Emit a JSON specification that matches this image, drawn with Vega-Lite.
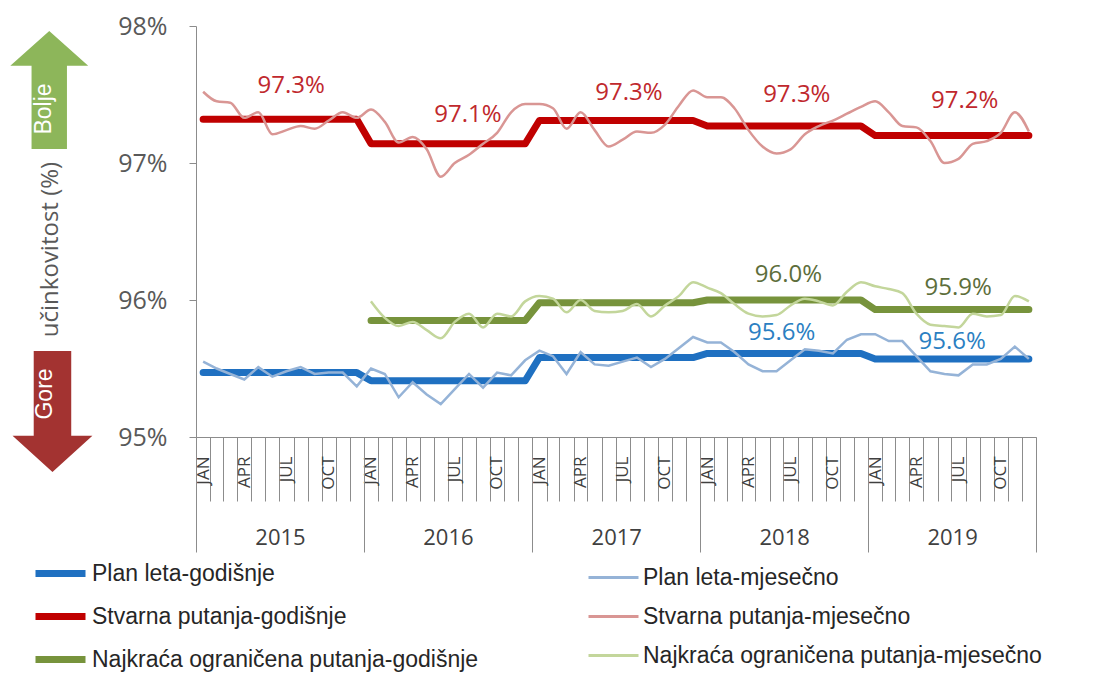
{
"$schema": "https://vega.github.io/schema/vega-lite/v6.json",
"padding": {"left": 10, "top": 14, "right": 5, "bottom": 2},
"config": {"view": {"stroke": null}, "font": "Open Sans"},
"width": 840, "height": 411,
"resolve": {"axis": {"x": "independent"}, "scale": {"color": "independent"}},
"datasets": {
"rows": [
{"d":"2015-01","Plan leta-godišnje":95.47,"Plan leta-mjesečno":95.55,"Stvarna putanja-godišnje":97.32,"Stvarna putanja-mjesečno":97.52,"Najkraća ograničena putanja-godišnje":null,"Najkraća ograničena putanja-mjesečno":null},
{"d":"2015-02","Plan leta-godišnje":95.47,"Plan leta-mjesečno":95.50,"Stvarna putanja-godišnje":97.32,"Stvarna putanja-mjesečno":97.45,"Najkraća ograničena putanja-godišnje":null,"Najkraća ograničena putanja-mjesečno":null},
{"d":"2015-03","Plan leta-godišnje":95.47,"Plan leta-mjesečno":95.46,"Stvarna putanja-godišnje":97.32,"Stvarna putanja-mjesečno":97.44,"Najkraća ograničena putanja-godišnje":null,"Najkraća ograničena putanja-mjesečno":null},
{"d":"2015-04","Plan leta-godišnje":95.47,"Plan leta-mjesečno":95.42,"Stvarna putanja-godišnje":97.32,"Stvarna putanja-mjesečno":97.33,"Najkraća ograničena putanja-godišnje":null,"Najkraća ograničena putanja-mjesečno":null},
{"d":"2015-05","Plan leta-godišnje":95.47,"Plan leta-mjesečno":95.51,"Stvarna putanja-godišnje":97.32,"Stvarna putanja-mjesečno":97.37,"Najkraća ograničena putanja-godišnje":null,"Najkraća ograničena putanja-mjesečno":null},
{"d":"2015-06","Plan leta-godišnje":95.47,"Plan leta-mjesečno":95.44,"Stvarna putanja-godišnje":97.32,"Stvarna putanja-mjesečno":97.21,"Najkraća ograničena putanja-godišnje":null,"Najkraća ograničena putanja-mjesečno":null},
{"d":"2015-07","Plan leta-godišnje":95.47,"Plan leta-mjesečno":95.48,"Stvarna putanja-godišnje":97.32,"Stvarna putanja-mjesečno":97.24,"Najkraća ograničena putanja-godišnje":null,"Najkraća ograničena putanja-mjesečno":null},
{"d":"2015-08","Plan leta-godišnje":95.47,"Plan leta-mjesečno":95.51,"Stvarna putanja-godišnje":97.32,"Stvarna putanja-mjesečno":97.27,"Najkraća ograničena putanja-godišnje":null,"Najkraća ograničena putanja-mjesečno":null},
{"d":"2015-09","Plan leta-godišnje":95.47,"Plan leta-mjesečno":95.46,"Stvarna putanja-godišnje":97.32,"Stvarna putanja-mjesečno":97.25,"Najkraća ograničena putanja-godišnje":null,"Najkraća ograničena putanja-mjesečno":null},
{"d":"2015-10","Plan leta-godišnje":95.47,"Plan leta-mjesečno":95.47,"Stvarna putanja-godišnje":97.32,"Stvarna putanja-mjesečno":97.31,"Najkraća ograničena putanja-godišnje":null,"Najkraća ograničena putanja-mjesečno":null},
{"d":"2015-11","Plan leta-godišnje":95.47,"Plan leta-mjesečno":95.47,"Stvarna putanja-godišnje":97.32,"Stvarna putanja-mjesečno":97.37,"Najkraća ograničena putanja-godišnje":null,"Najkraća ograničena putanja-mjesečno":null},
{"d":"2015-12","Plan leta-godišnje":95.47,"Plan leta-mjesečno":95.37,"Stvarna putanja-godišnje":97.32,"Stvarna putanja-mjesečno":97.33,"Najkraća ograničena putanja-godišnje":null,"Najkraća ograničena putanja-mjesečno":null},
{"d":"2016-01","Plan leta-godišnje":95.41,"Plan leta-mjesečno":95.50,"Stvarna putanja-godišnje":97.14,"Stvarna putanja-mjesečno":97.39,"Najkraća ograničena putanja-godišnje":95.85,"Najkraća ograničena putanja-mjesečno":95.99},
{"d":"2016-02","Plan leta-godišnje":95.41,"Plan leta-mjesečno":95.46,"Stvarna putanja-godišnje":97.14,"Stvarna putanja-mjesečno":97.30,"Najkraća ograničena putanja-godišnje":95.85,"Najkraća ograničena putanja-mjesečno":95.87},
{"d":"2016-03","Plan leta-godišnje":95.41,"Plan leta-mjesečno":95.29,"Stvarna putanja-godišnje":97.14,"Stvarna putanja-mjesečno":97.15,"Najkraća ograničena putanja-godišnje":95.85,"Najkraća ograničena putanja-mjesečno":95.81},
{"d":"2016-04","Plan leta-godišnje":95.41,"Plan leta-mjesečno":95.40,"Stvarna putanja-godišnje":97.14,"Stvarna putanja-mjesečno":97.19,"Najkraća ograničena putanja-godišnje":95.85,"Najkraća ograničena putanja-mjesečno":95.84},
{"d":"2016-05","Plan leta-godišnje":95.41,"Plan leta-mjesečno":95.31,"Stvarna putanja-godišnje":97.14,"Stvarna putanja-mjesečno":97.10,"Najkraća ograničena putanja-godišnje":95.85,"Najkraća ograničena putanja-mjesečno":95.78},
{"d":"2016-06","Plan leta-godišnje":95.41,"Plan leta-mjesečno":95.24,"Stvarna putanja-godišnje":97.14,"Stvarna putanja-mjesečno":96.90,"Najkraća ograničena putanja-godišnje":95.85,"Najkraća ograničena putanja-mjesečno":95.72},
{"d":"2016-07","Plan leta-godišnje":95.41,"Plan leta-mjesečno":95.35,"Stvarna putanja-godišnje":97.14,"Stvarna putanja-mjesečno":97.00,"Najkraća ograničena putanja-godišnje":95.85,"Najkraća ograničena putanja-mjesečno":95.84},
{"d":"2016-08","Plan leta-godišnje":95.41,"Plan leta-mjesečno":95.46,"Stvarna putanja-godišnje":97.14,"Stvarna putanja-mjesečno":97.06,"Najkraća ograničena putanja-godišnje":95.85,"Najkraća ograničena putanja-mjesečno":95.90},
{"d":"2016-09","Plan leta-godišnje":95.41,"Plan leta-mjesečno":95.36,"Stvarna putanja-godišnje":97.14,"Stvarna putanja-mjesečno":97.14,"Najkraća ograničena putanja-godišnje":95.85,"Najkraća ograničena putanja-mjesečno":95.80},
{"d":"2016-10","Plan leta-godišnje":95.41,"Plan leta-mjesečno":95.47,"Stvarna putanja-godišnje":97.14,"Stvarna putanja-mjesečno":97.22,"Najkraća ograničena putanja-godišnje":95.85,"Najkraća ograničena putanja-mjesečno":95.90},
{"d":"2016-11","Plan leta-godišnje":95.41,"Plan leta-mjesečno":95.45,"Stvarna putanja-godišnje":97.14,"Stvarna putanja-mjesečno":97.37,"Najkraća ograničena putanja-godišnje":95.85,"Najkraća ograničena putanja-mjesečno":95.88},
{"d":"2016-12","Plan leta-godišnje":95.41,"Plan leta-mjesečno":95.56,"Stvarna putanja-godišnje":97.14,"Stvarna putanja-mjesečno":97.43,"Najkraća ograničena putanja-godišnje":95.85,"Najkraća ograničena putanja-mjesečno":95.99},
{"d":"2017-01","Plan leta-godišnje":95.58,"Plan leta-mjesečno":95.63,"Stvarna putanja-godišnje":97.31,"Stvarna putanja-mjesečno":97.43,"Najkraća ograničena putanja-godišnje":95.98,"Najkraća ograničena putanja-mjesečno":96.03},
{"d":"2017-02","Plan leta-godišnje":95.58,"Plan leta-mjesečno":95.59,"Stvarna putanja-godišnje":97.31,"Stvarna putanja-mjesečno":97.40,"Najkraća ograničena putanja-godišnje":95.98,"Najkraća ograničena putanja-mjesečno":96.01},
{"d":"2017-03","Plan leta-godišnje":95.58,"Plan leta-mjesečno":95.46,"Stvarna putanja-godišnje":97.31,"Stvarna putanja-mjesečno":97.25,"Najkraća ograničena putanja-godišnje":95.98,"Najkraća ograničena putanja-mjesečno":95.91},
{"d":"2017-04","Plan leta-godišnje":95.58,"Plan leta-mjesečno":95.62,"Stvarna putanja-godišnje":97.31,"Stvarna putanja-mjesečno":97.37,"Najkraća ograničena putanja-godišnje":95.98,"Najkraća ograničena putanja-mjesečno":96.00},
{"d":"2017-05","Plan leta-godišnje":95.58,"Plan leta-mjesečno":95.53,"Stvarna putanja-godišnje":97.31,"Stvarna putanja-mjesečno":97.24,"Najkraća ograničena putanja-godišnje":95.98,"Najkraća ograničena putanja-mjesečno":95.92},
{"d":"2017-06","Plan leta-godišnje":95.58,"Plan leta-mjesečno":95.52,"Stvarna putanja-godišnje":97.31,"Stvarna putanja-mjesečno":97.12,"Najkraća ograničena putanja-godišnje":95.98,"Najkraća ograničena putanja-mjesečno":95.91},
{"d":"2017-07","Plan leta-godišnje":95.58,"Plan leta-mjesečno":95.55,"Stvarna putanja-godišnje":97.31,"Stvarna putanja-mjesečno":97.17,"Najkraća ograničena putanja-godišnje":95.98,"Najkraća ograničena putanja-mjesečno":95.92},
{"d":"2017-08","Plan leta-godišnje":95.58,"Plan leta-mjesečno":95.58,"Stvarna putanja-godišnje":97.31,"Stvarna putanja-mjesečno":97.23,"Najkraća ograničena putanja-godišnje":95.98,"Najkraća ograničena putanja-mjesečno":95.97},
{"d":"2017-09","Plan leta-godišnje":95.58,"Plan leta-mjesečno":95.51,"Stvarna putanja-godišnje":97.31,"Stvarna putanja-mjesečno":97.22,"Najkraća ograničena putanja-godišnje":95.98,"Najkraća ograničena putanja-mjesečno":95.88},
{"d":"2017-10","Plan leta-godišnje":95.58,"Plan leta-mjesečno":95.57,"Stvarna putanja-godišnje":97.31,"Stvarna putanja-mjesečno":97.28,"Najkraća ograničena putanja-godišnje":95.98,"Najkraća ograničena putanja-mjesečno":95.96},
{"d":"2017-11","Plan leta-godišnje":95.58,"Plan leta-mjesečno":95.65,"Stvarna putanja-godišnje":97.31,"Stvarna putanja-mjesečno":97.42,"Najkraća ograničena putanja-godišnje":95.98,"Najkraća ograničena putanja-mjesečno":96.03},
{"d":"2017-12","Plan leta-godišnje":95.58,"Plan leta-mjesečno":95.73,"Stvarna putanja-godišnje":97.31,"Stvarna putanja-mjesečno":97.53,"Najkraća ograničena putanja-godišnje":95.98,"Najkraća ograničena putanja-mjesečno":96.13},
{"d":"2018-01","Plan leta-godišnje":95.61,"Plan leta-mjesečno":95.69,"Stvarna putanja-godišnje":97.27,"Stvarna putanja-mjesečno":97.48,"Najkraća ograničena putanja-godišnje":96.00,"Najkraća ograničena putanja-mjesečno":96.09},
{"d":"2018-02","Plan leta-godišnje":95.61,"Plan leta-mjesečno":95.69,"Stvarna putanja-godišnje":97.27,"Stvarna putanja-mjesečno":97.48,"Najkraća ograničena putanja-godišnje":96.00,"Najkraća ograničena putanja-mjesečno":96.05},
{"d":"2018-03","Plan leta-godišnje":95.61,"Plan leta-mjesečno":95.62,"Stvarna putanja-godišnje":97.27,"Stvarna putanja-mjesečno":97.40,"Najkraća ograničena putanja-godišnje":96.00,"Najkraća ograničena putanja-mjesečno":95.97},
{"d":"2018-04","Plan leta-godišnje":95.61,"Plan leta-mjesečno":95.53,"Stvarna putanja-godišnje":97.27,"Stvarna putanja-mjesečno":97.24,"Najkraća ograničena putanja-godišnje":96.00,"Najkraća ograničena putanja-mjesečno":95.90},
{"d":"2018-05","Plan leta-godišnje":95.61,"Plan leta-mjesečno":95.48,"Stvarna putanja-godišnje":97.27,"Stvarna putanja-mjesečno":97.12,"Najkraća ograničena putanja-godišnje":96.00,"Najkraća ograničena putanja-mjesečno":95.88},
{"d":"2018-06","Plan leta-godišnje":95.61,"Plan leta-mjesečno":95.48,"Stvarna putanja-godišnje":97.27,"Stvarna putanja-mjesečno":97.07,"Najkraća ograničena putanja-godišnje":96.00,"Najkraća ograničena putanja-mjesečno":95.89},
{"d":"2018-07","Plan leta-godišnje":95.61,"Plan leta-mjesečno":95.56,"Stvarna putanja-godišnje":97.27,"Stvarna putanja-mjesečno":97.10,"Najkraća ograničena putanja-godišnje":96.00,"Najkraća ograničena putanja-mjesečno":95.96},
{"d":"2018-08","Plan leta-godišnje":95.61,"Plan leta-mjesečno":95.64,"Stvarna putanja-godišnje":97.27,"Stvarna putanja-mjesečno":97.21,"Najkraća ograničena putanja-godišnje":96.00,"Najkraća ograničena putanja-mjesečno":96.01},
{"d":"2018-09","Plan leta-godišnje":95.61,"Plan leta-mjesečno":95.63,"Stvarna putanja-godišnje":97.27,"Stvarna putanja-mjesečno":97.27,"Najkraća ograničena putanja-godišnje":96.00,"Najkraća ograničena putanja-mjesečno":95.99},
{"d":"2018-10","Plan leta-godišnje":95.61,"Plan leta-mjesečno":95.61,"Stvarna putanja-godišnje":97.27,"Stvarna putanja-mjesečno":97.31,"Najkraća ograničena putanja-godišnje":96.00,"Najkraća ograničena putanja-mjesečno":95.96},
{"d":"2018-11","Plan leta-godišnje":95.61,"Plan leta-mjesečno":95.71,"Stvarna putanja-godišnje":97.27,"Stvarna putanja-mjesečno":97.36,"Najkraća ograničena putanja-godišnje":96.00,"Najkraća ograničena putanja-mjesečno":96.06},
{"d":"2018-12","Plan leta-godišnje":95.61,"Plan leta-mjesečno":95.75,"Stvarna putanja-godišnje":97.27,"Stvarna putanja-mjesečno":97.41,"Najkraća ograničena putanja-godišnje":96.00,"Najkraća ograničena putanja-mjesečno":96.13},
{"d":"2019-01","Plan leta-godišnje":95.57,"Plan leta-mjesečno":95.75,"Stvarna putanja-godišnje":97.20,"Stvarna putanja-mjesečno":97.45,"Najkraća ograničena putanja-godišnje":95.93,"Najkraća ograničena putanja-mjesečno":96.10},
{"d":"2019-02","Plan leta-godišnje":95.57,"Plan leta-mjesečno":95.70,"Stvarna putanja-godišnje":97.20,"Stvarna putanja-mjesečno":97.37,"Najkraća ograničena putanja-godišnje":95.93,"Najkraća ograničena putanja-mjesečno":96.08},
{"d":"2019-03","Plan leta-godišnje":95.57,"Plan leta-mjesečno":95.70,"Stvarna putanja-godišnje":97.20,"Stvarna putanja-mjesečno":97.27,"Najkraća ograničena putanja-godišnje":95.93,"Najkraća ograničena putanja-mjesečno":96.05},
{"d":"2019-04","Plan leta-godišnje":95.57,"Plan leta-mjesečno":95.59,"Stvarna putanja-godišnje":97.20,"Stvarna putanja-mjesečno":97.26,"Najkraća ograničena putanja-godišnje":95.93,"Najkraća ograničena putanja-mjesečno":95.90},
{"d":"2019-05","Plan leta-godišnje":95.57,"Plan leta-mjesečno":95.48,"Stvarna putanja-godišnje":97.20,"Stvarna putanja-mjesečno":97.16,"Najkraća ograničena putanja-godišnje":95.93,"Najkraća ograničena putanja-mjesečno":95.82},
{"d":"2019-06","Plan leta-godišnje":95.57,"Plan leta-mjesečno":95.46,"Stvarna putanja-godišnje":97.20,"Stvarna putanja-mjesečno":97.00,"Najkraća ograničena putanja-godišnje":95.93,"Najkraća ograničena putanja-mjesečno":95.81},
{"d":"2019-07","Plan leta-godišnje":95.57,"Plan leta-mjesečno":95.45,"Stvarna putanja-godišnje":97.20,"Stvarna putanja-mjesečno":97.03,"Najkraća ograničena putanja-godišnje":95.93,"Najkraća ograničena putanja-mjesečno":95.80},
{"d":"2019-08","Plan leta-godišnje":95.57,"Plan leta-mjesečno":95.53,"Stvarna putanja-godišnje":97.20,"Stvarna putanja-mjesečno":97.14,"Najkraća ograničena putanja-godišnje":95.93,"Najkraća ograničena putanja-mjesečno":95.90},
{"d":"2019-09","Plan leta-godišnje":95.57,"Plan leta-mjesečno":95.53,"Stvarna putanja-godišnje":97.20,"Stvarna putanja-mjesečno":97.16,"Najkraća ograničena putanja-godišnje":95.93,"Najkraća ograničena putanja-mjesečno":95.88},
{"d":"2019-10","Plan leta-godišnje":95.57,"Plan leta-mjesečno":95.57,"Stvarna putanja-godišnje":97.20,"Stvarna putanja-mjesečno":97.22,"Najkraća ograničena putanja-godišnje":95.93,"Najkraća ograničena putanja-mjesečno":95.89},
{"d":"2019-11","Plan leta-godišnje":95.57,"Plan leta-mjesečno":95.66,"Stvarna putanja-godišnje":97.20,"Stvarna putanja-mjesečno":97.37,"Najkraća ograničena putanja-godišnje":95.93,"Najkraća ograničena putanja-mjesečno":96.03},
{"d":"2019-12","Plan leta-godišnje":95.57,"Plan leta-mjesečno":95.57,"Stvarna putanja-godišnje":97.20,"Stvarna putanja-mjesečno":97.23,"Najkraća ograničena putanja-godišnje":95.93,"Najkraća ograničena putanja-mjesečno":95.99}
]
},
"encoding": {
 "y": {"field": "v", "type": "quantitative", "scale": {"domain": [95, 98], "nice": false, "zero": false},
  "axis": {"title": "učinkovitost (%)", "titleFont": "Open Sans", "titleFontSize": 24, "titleFontWeight": "normal", "titleColor": "#595959", "titlePadding": 55, "titleY": 223,
   "grid": false, "values": [95, 96, 97, 98], "labelExpr": "datum.value + '%'", "tickSize": 7, "tickColor": "#8c8c8c", "domainColor": "#8c8c8c", "labelFont": "Open Sans", "labelFontSize": 25, "labelColor": "#595959", "labelPadding": 22}}
},
"layer": [
{"data": {"values": [{"d": "2014-02-16", "v": 97.533}]},
 "mark": {"type": "point", "shape": "M0,-1L0.66,-0.41L0.3,-0.41L0.3,1L-0.3,1L-0.3,-0.41L-0.66,-0.41Z", "filled": true, "size": 13924, "color": "#8db65a", "opacity": 1},
 "encoding": {"x": {"field": "d", "type": "temporal", "axis": null}}},
{"data": {"values": [{"d": "2014-02-23", "v": 95.186}]},
 "mark": {"type": "point", "shape": "M0,1L0.66,0.4L0.31,0.4L0.31,-1L-0.31,-1L-0.31,0.4L-0.66,0.4Z", "filled": true, "size": 14641, "color": "#a33331", "opacity": 1},
 "encoding": {"x": {"field": "d", "type": "temporal", "axis": null}}},
{"data": {"values": [{"d": "2014-02-05", "v": 97.394, "t": "Bolje"}, {"d": "2014-02-07", "v": 95.314, "t": "Gore"}]},
 "mark": {"type": "text", "angle": 270, "color": "#ffffff", "font": "Liberation Sans", "fontSize": 23, "align": "center", "baseline": "middle"},
 "encoding": {"x": {"field": "d", "type": "temporal", "axis": null}, "text": {"field": "t"}}},
{"data": {"name": "rows"},
 "transform": [{"fold": ["Plan leta-godišnje", "Stvarna putanja-godišnje", "Najkraća ograničena putanja-godišnje"], "as": ["s", "v"]}],
 "mark": {"type": "line", "strokeWidth": 7, "strokeCap": "round", "strokeJoin": "round"},
 "encoding": {
  "x": {"field": "d", "type": "temporal", "timeUnit": "utcyearmonth", "bandPosition": 0.5,
   "scale": {"type": "utc", "domain": [{"year": 2015, "month": 1, "date": 1, "utc": true}, {"year": 2020, "month": 1, "date": 1, "utc": true}], "nice": false},
   "axis": {"orient": "bottom", "title": null, "grid": false, "tickCount": {"interval": "month", "step": 1},
    "labelExpr": "utcyear(datum.value) < 2020 ? ['JAN','','','APR','','','JUL','','','OCT','',''][utcmonth(datum.value)] : ''",
    "labelAngle": 270, "labelAlign": "right", "labelBaseline": "middle", "labelOffset": 7, "labelPadding": -45,
    "tickSize": 64, "tickColor": "#8c8c8c", "domainColor": "#8c8c8c", "labelFont": "Open Sans", "labelFontSize": 17, "labelColor": "#404040",
    "labelOverlap": false}},
  "color": {"field": "s", "type": "nominal",
   "scale": {"domain": ["Plan leta-godišnje", "Stvarna putanja-godišnje", "Najkraća ograničena putanja-godišnje"],
    "range": ["#1f70c1", "#c00000", "#77933c"]},
   "legend": {"orient": "none", "legendX": -164, "legendY": 519, "title": null, "symbolType": "stroke", "symbolSize": 2500, "symbolStrokeWidth": 7,
    "labelFont": "Liberation Sans", "labelFontSize": 23, "labelColor": "#262626", "labelLimit": 600, "rowPadding": -20, "labelOffset": 3}}
 }},
{"data": {"name": "rows"},
 "transform": [{"fold": ["Plan leta-mjesečno"], "as": ["s", "v"]}],
 "mark": {"type": "line", "strokeWidth": 2.5, "interpolate": "linear"},
 "encoding": {
  "x": {"field": "d", "type": "temporal", "timeUnit": "utcyearmonth", "bandPosition": 0.5, "axis": null},
  "color": {"field": "s", "type": "nominal",
   "scale": {"domain": ["Plan leta-mjesečno", "Stvarna putanja-mjesečno", "Najkraća ograničena putanja-mjesečno"], "range": ["#95b3d7", "#d99694", "#c3d69b"]},
   "legend": null}
 }},
{"data": {"name": "rows"},
 "transform": [{"fold": ["Stvarna putanja-mjesečno", "Najkraća ograničena putanja-mjesečno"], "as": ["s", "v"]}],
 "mark": {"type": "line", "strokeWidth": 2.5, "interpolate": "monotone"},
 "encoding": {
  "x": {"field": "d", "type": "temporal", "timeUnit": "utcyearmonth", "bandPosition": 0.5, "axis": null},
  "color": {"field": "s", "type": "nominal",
   "scale": {"domain": ["Plan leta-mjesečno", "Stvarna putanja-mjesečno", "Najkraća ograničena putanja-mjesečno"], "range": ["#95b3d7", "#d99694", "#c3d69b"]},
   "legend": {"orient": "none", "legendX": 391, "legendY": 525, "title": null, "symbolType": "stroke", "symbolSize": 2500, "symbolStrokeWidth": 3,
    "labelFont": "Liberation Sans", "labelFontSize": 23, "labelColor": "#262626", "labelLimit": 600, "rowPadding": -16, "labelOffset": 3}}
 }},
{"data": {"values": [
  {"d":"2015-07-27","t":"97.3%","v":97.56},
  {"d":"2016-08-14","t":"97.1%","v":97.35},
  {"d":"2017-07-30","t":"97.3%","v":97.51},
  {"d":"2018-07-30","t":"97.3%","v":97.50},
  {"d":"2019-07-30","t":"97.2%","v":97.45}]},
 "mark": {"type": "text", "font": "Open Sans", "fontSize": 24, "align": "center", "baseline": "middle", "color": "#c0282d"},
 "encoding": {
  "x": {"field": "d", "type": "temporal",
   "axis": {"orient": "bottom", "title": null, "grid": false, "domain": false, "tickCount": {"interval": "year", "step": 1},
    "labelExpr": "utcyear(datum.value) < 2020 ? '' + utcyear(datum.value) : ''",
    "labelAngle": 0, "labelAlign": "center", "labelBaseline": "top", "labelOffset": 84, "labelPadding": -25,
    "tickSize": 115, "tickColor": "#8c8c8c", "labelFont": "Open Sans", "labelFontSize": 22, "labelColor": "#404040",
    "labelOverlap": false}},
  "text": {"field": "t"}
 }},
{"data": {"values": [
  {"d":"2018-07-12","t":"96.0%","v":96.18},
  {"d":"2019-07-16","t":"95.9%","v":96.09}]},
 "mark": {"type": "text", "font": "Open Sans", "fontSize": 24, "align": "center", "baseline": "middle", "color": "#5d6e3b"},
 "encoding": {"x": {"field": "d", "type": "temporal", "axis": null}, "text": {"field": "t"}}},
{"data": {"values": [
  {"d":"2018-06-27","t":"95.6%","v":95.76},
  {"d":"2019-07-03","t":"95.6%","v":95.69}]},
 "mark": {"type": "text", "font": "Open Sans", "fontSize": 24, "align": "center", "baseline": "middle", "color": "#2b7fc2"},
 "encoding": {"x": {"field": "d", "type": "temporal", "axis": null}, "text": {"field": "t"}}}
]
}
